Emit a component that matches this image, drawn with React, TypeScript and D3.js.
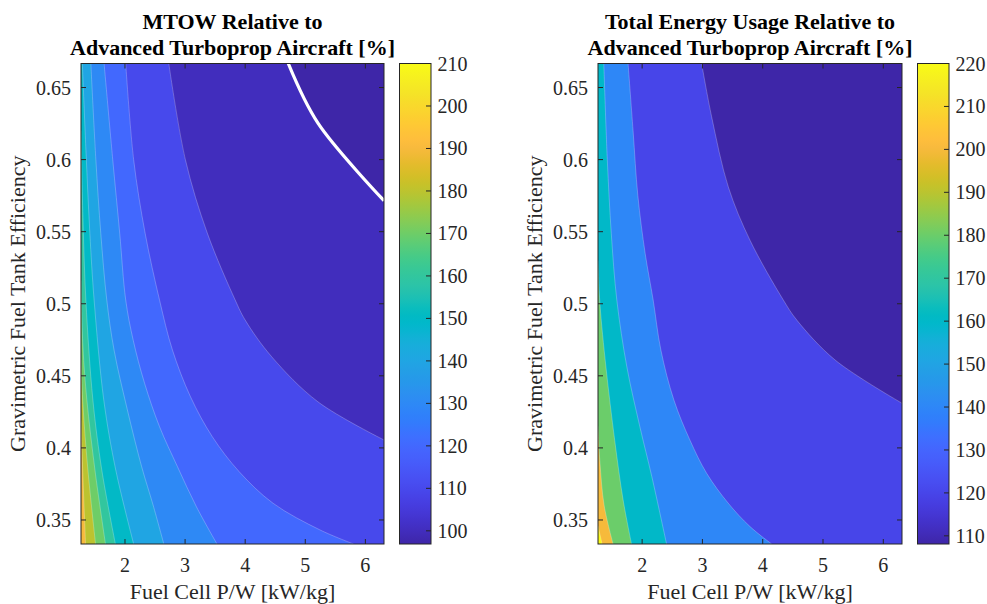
import React from 'react';
import * as d3 from 'd3';

type Pt = [number, number];

// parula(64)
const PARULA: number[][] = [
  [0.2422, 0.1504, 0.6603], [0.2504, 0.165, 0.7076], [0.2578, 0.1818, 0.7511], [0.2647, 0.1978, 0.7952],
  [0.2706, 0.2147, 0.8364], [0.2751, 0.2342, 0.871], [0.2783, 0.2559, 0.8991], [0.2803, 0.2782, 0.9221],
  [0.2813, 0.3006, 0.9414], [0.281, 0.3228, 0.9579], [0.2795, 0.3447, 0.9717], [0.276, 0.3667, 0.9829],
  [0.2699, 0.3892, 0.9906], [0.2602, 0.4123, 0.9952], [0.244, 0.4358, 0.9988], [0.2206, 0.4603, 0.9973],
  [0.1963, 0.4847, 0.9892], [0.1834, 0.5074, 0.9798], [0.1786, 0.5289, 0.9682], [0.1764, 0.5499, 0.952],
  [0.1687, 0.5703, 0.9359], [0.154, 0.5902, 0.9218], [0.146, 0.6091, 0.9079], [0.138, 0.6276, 0.8973],
  [0.1248, 0.6459, 0.8883], [0.1113, 0.6635, 0.8763], [0.0952, 0.6798, 0.8598], [0.0689, 0.6948, 0.8394],
  [0.0297, 0.7082, 0.8163], [0.0036, 0.7203, 0.7917], [0.0067, 0.7312, 0.766], [0.0433, 0.7411, 0.7394],
  [0.0964, 0.75, 0.712], [0.1408, 0.7584, 0.6842], [0.1717, 0.767, 0.6554], [0.1938, 0.7758, 0.6251],
  [0.2161, 0.7843, 0.5923], [0.247, 0.7918, 0.5567], [0.2906, 0.7973, 0.5188], [0.3406, 0.8008, 0.4789],
  [0.3909, 0.8029, 0.4354], [0.4456, 0.8024, 0.3909], [0.5044, 0.7993, 0.348], [0.5616, 0.7942, 0.3045],
  [0.6174, 0.7876, 0.2612], [0.672, 0.7793, 0.2227], [0.7242, 0.7698, 0.191], [0.7738, 0.7598, 0.1646],
  [0.8203, 0.7498, 0.1535], [0.8634, 0.7406, 0.1596], [0.9035, 0.733, 0.1774], [0.9393, 0.7288, 0.21],
  [0.9728, 0.7298, 0.2394], [0.9956, 0.7434, 0.2371], [0.997, 0.7659, 0.2199], [0.9952, 0.7893, 0.2028],
  [0.9892, 0.8136, 0.1885], [0.9786, 0.8386, 0.1766], [0.9676, 0.8639, 0.1643], [0.961, 0.889, 0.1537],
  [0.9597, 0.9135, 0.1423], [0.9628, 0.9373, 0.1265], [0.9691, 0.9606, 0.1064], [0.9769, 0.9839, 0.0805],
];
const parulaHex = PARULA.map(c => d3.rgb(c[0] * 255, c[1] * 255, c[2] * 255).formatHex());
const parula = d3.piecewise(d3.interpolateRgb, parulaHex);

// axes ranges
const X_DOMAIN = [1.268, 6.31];
const Y_DOMAIN = [1 / 3, 2 / 3];
const xTicks = [2, 3, 4, 5, 6];
const yTicks = [0.35, 0.4, 0.45, 0.5, 0.55, 0.6, 0.65];

// MTOW contour lines [level, points (P/W, tank eff.)]
const mtowClim = [96.9, 210];
const mtowTicks = [100, 110, 120, 130, 140, 150, 160, 170, 180, 190, 200, 210];
const mtowContours: [number, Pt[]][] = [
  [100, [[4.717, 0.6667], [5.214, 0.6251], [6.31, 0.5715]]],
  [110, [[2.729, 0.6667], [3.005, 0.6], [3.37, 0.549], [3.834, 0.5026], [4.0, 0.4887], [4.44, 0.4633], [5.21, 0.432], [6.31, 0.4055]]],
  [120, [[2.012, 0.6667], [2.144, 0.6], [2.335, 0.549], [2.575, 0.5026], [2.79, 0.4679], [3.09, 0.4355], [3.453, 0.4078], [3.9, 0.3835], [4.464, 0.3616], [5.245, 0.3431], [5.806, 0.3333]]],
  [130, [[1.652, 0.6667], [1.796, 0.6], [1.912, 0.549], [2.012, 0.5026], [2.136, 0.4748], [2.326, 0.4448], [2.575, 0.4147], [2.873, 0.387], [3.188, 0.3592], [3.531, 0.3333]]],
  [140, [[1.432, 0.6667], [1.515, 0.6], [1.597, 0.549], [1.697, 0.5026], [1.818, 0.4679], [2.04, 0.4263], [2.277, 0.387], [2.467, 0.3604], [2.646, 0.3333]]],
  [150, [[1.29, 0.6667], [1.357, 0.6], [1.415, 0.549], [1.486, 0.5026], [1.647, 0.4332], [1.846, 0.3847], [2.144, 0.3333]]],
  [160, [[1.268, 0.62], [1.3, 0.56], [1.349, 0.5026], [1.466, 0.4332], [1.614, 0.3847], [1.84, 0.3333]]],
  [170, [[1.268, 0.516], [1.3, 0.47], [1.366, 0.4332], [1.5, 0.3847], [1.675, 0.3333]]],
  [180, [[1.268, 0.461], [1.3, 0.43], [1.383, 0.3847], [1.51, 0.3333]]],
  [190, [[1.268, 0.419], [1.3, 0.38], [1.344, 0.3333]]],
];
const mtowBreakEven = 100;

// energy usage contour lines
const energyClim = [108.1, 220];
const energyTicks = [110, 120, 130, 140, 150, 160, 170, 180, 190, 200, 210, 220];
const energyContours: [number, Pt[]][] = [
  [120, [[2.987, 0.6667], [3.153, 0.6297], [3.43, 0.581], [3.79, 0.544], [4.342, 0.5026], [4.565, 0.4887], [5.2, 0.461], [6.31, 0.431]]],
  [140, [[1.767, 0.6667], [1.85, 0.62], [1.929, 0.575], [2.05, 0.535], [2.183, 0.5026], [2.311, 0.4679], [2.527, 0.4332], [2.792, 0.4055], [3.07, 0.3824], [3.429, 0.3616], [3.79, 0.3454], [4.15, 0.3333]]],
  [160, [[1.364, 0.6667], [1.422, 0.6], [1.488, 0.549], [1.58, 0.5026], [1.746, 0.4563], [1.962, 0.4147], [2.161, 0.38], [2.405, 0.3333]]],
  [180, [[1.268, 0.53], [1.3, 0.5], [1.4, 0.456], [1.546, 0.405], [1.684, 0.364], [1.824, 0.3333]]],
  [200, [[1.268, 0.415], [1.3, 0.39], [1.37, 0.36], [1.518, 0.3333]]],
  [220, [[1.268, 0.346], [1.336, 0.3333]]],
];

const TOP = 63.5;
const BOTTOM = 544;
const FONT = '"Liberation Serif", "Times New Roman", serif';
const INK = '#262626';

interface PanelProps {
  id: string;
  axL: number; axR: number; cbL: number; cbR: number;
  title: string[];
  contours: [number, Pt[]][];
  clim: number[];
  cbTicks: number[];
  whiteLevel?: number;
}

function ContourPanel({ id, axL, axR, cbL, cbR, title, contours, clim, cbTicks, whiteLevel }: PanelProps) {
  const x = d3.scaleLinear().domain(X_DOMAIN).range([axL, axR]);
  const y = d3.scaleLinear().domain(Y_DOMAIN).range([BOTTOM, TOP]);
  const cb = d3.scaleLinear().domain(clim).range([BOTTOM, TOP]);
  const color = (v: number) => parula(Math.max(0, Math.min(1, (v - clim[0]) / (clim[1] - clim[0]))));

  const curve = d3.line<Pt>().x(d => x(d[0])).y(d => y(d[1])).curve(d3.curveCatmullRom.alpha(0.5));

  // region with value >= level lies below/left of its line
  const region = (pts: Pt[]) => {
    const [xmin, xmax] = X_DOMAIN;
    const [ymin, ymax] = Y_DOMAIN;
    const eps = 0.003;
    const extra: Pt[] = [];
    const first = pts[0];
    const last = pts[pts.length - 1];
    if (Math.abs(last[0] - xmax) < eps && last[1] > ymin + eps) extra.push([xmax, ymin]);
    extra.push([xmin, ymin]);
    if (Math.abs(first[1] - ymax) < eps && first[0] > xmin + eps) extra.push([xmin, ymax]);
    return curve(pts) + extra.map(p => `L${x(p[0])},${y(p[1])}`).join('') + 'Z';
  };

  const cx = (axL + axR) / 2;
  const tickLen = 5;

  return (
    <g>
      <defs>
        <clipPath id={`clip-${id}`}>
          <rect x={axL} y={TOP} width={axR - axL} height={BOTTOM - TOP} />
        </clipPath>
        <linearGradient id={`grad-${id}`} x1="0" y1="1" x2="0" y2="0">
          {parulaHex.map((c, i) => (
            <stop key={i} offset={i / (parulaHex.length - 1)} stopColor={c} />
          ))}
        </linearGradient>
      </defs>

      <g clipPath={`url(#clip-${id})`}>
        <rect x={axL} y={TOP} width={axR - axL} height={BOTTOM - TOP} fill={color(clim[0])} />
        {contours.map(([lv, pts]) => (
          <path key={lv} d={region(pts)} fill={color(lv)} />
        ))}
        {contours.map(([lv, pts]) => (
          lv === whiteLevel ? null :
            <path key={'l' + lv} d={curve(pts) || ''} fill="none" stroke="#fff" strokeOpacity={0.35} strokeWidth={0.7} />
        ))}
        {contours.filter(([lv]) => lv === whiteLevel).map(([lv, pts]) => (
          <path key={'w' + lv} d={curve(pts) || ''} fill="none" stroke="#fff" strokeWidth={3.2} />
        ))}
      </g>

      {/* box and ticks */}
      <rect x={axL} y={TOP} width={axR - axL} height={BOTTOM - TOP} fill="none" stroke={INK} strokeWidth={1} />
      {xTicks.map(t => (
        <g key={'x' + t}>
          <line x1={x(t)} x2={x(t)} y1={BOTTOM} y2={BOTTOM - tickLen} stroke={INK} />
          <line x1={x(t)} x2={x(t)} y1={TOP} y2={TOP + tickLen} stroke={INK} />
          <text x={x(t)} y={571.5} textAnchor="middle" fontSize={20} fill={INK}>{t}</text>
        </g>
      ))}
      {yTicks.map(t => (
        <g key={'y' + t}>
          <line x1={axL} x2={axL + tickLen} y1={y(t)} y2={y(t)} stroke={INK} />
          <line x1={axR} x2={axR - tickLen} y1={y(t)} y2={y(t)} stroke={INK} />
          <text x={axL - 10} y={y(t) + 7} textAnchor="end" fontSize={20} fill={INK}>{t}</text>
        </g>
      ))}

      <text x={cx} y={599} textAnchor="middle" fontSize={22} fill={INK}>Fuel Cell P/W [kW/kg]</text>
      <text transform={`translate(${axL - 56.5},${(TOP + BOTTOM) / 2}) rotate(-90)`} textAnchor="middle" fontSize={22} fill={INK}>
        Gravimetric Fuel Tank Efficiency
      </text>
      {title.map((s, i) => (
        <text key={i} x={cx} y={28.5 + i * 26.5} textAnchor="middle" fontSize={22} fontWeight="bold" fill="#000">{s}</text>
      ))}

      {/* colorbar */}
      <rect x={cbL} y={TOP} width={cbR - cbL} height={BOTTOM - TOP} fill={`url(#grad-${id})`} stroke={INK} strokeWidth={1} />
      {cbTicks.map(t => (
        <g key={'c' + t}>
          <line x1={cbR} x2={cbR - tickLen} y1={cb(t)} y2={cb(t)} stroke={INK} />
          <text x={cbR + 6.5} y={cb(t) + 7} fontSize={20} fill={INK}>{t}</text>
        </g>
      ))}
    </g>
  );
}

export default function App() {
  return (
    <svg width={987} height={604} style={{ position: 'absolute', left: 0, top: 0, background: '#fff' }} fontFamily={FONT}>
      <rect width={987} height={604} fill="#fff" />
      <ContourPanel
        id="mtow" axL={81} axR={384} cbL={399.5} cbR={431}
        title={['MTOW Relative to', 'Advanced Turboprop Aircraft [%]']}
        contours={mtowContours} clim={mtowClim} cbTicks={mtowTicks} whiteLevel={mtowBreakEven}
      />
      <ContourPanel
        id="energy" axL={598} axR={902} cbL={917.5} cbR={949}
        title={['Total Energy Usage Relative to', 'Advanced Turboprop Aircraft [%]']}
        contours={energyContours} clim={energyClim} cbTicks={energyTicks}
      />
    </svg>
  );
}
